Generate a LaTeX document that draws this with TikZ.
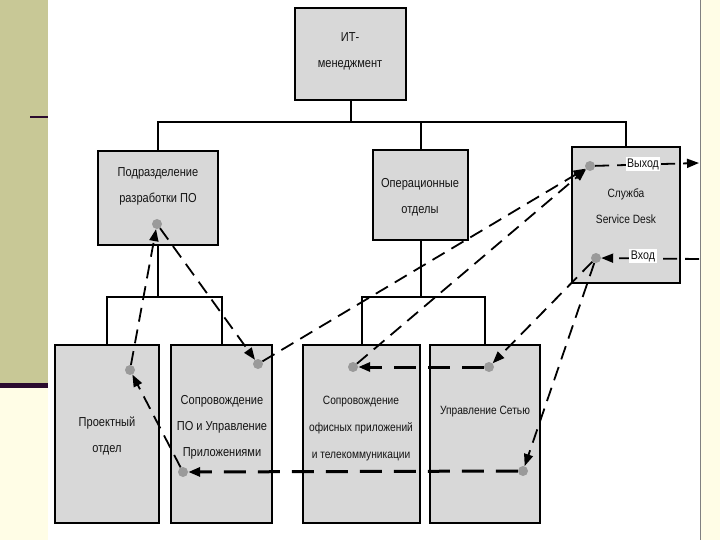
\documentclass[tikz,border=0pt]{standalone}
\usepackage{fontspec}
\setmainfont{Liberation Sans}[FakeStretch=0.85]
\usetikzlibrary{arrows.meta}
\definecolor{sideolive}{HTML}{C8C896}
\definecolor{sidepurple}{HTML}{2B0B2E}
\definecolor{sideyellow}{HTML}{FFFDE6}
\definecolor{boxgray}{HTML}{D8D8D8}
\definecolor{dotgray}{HTML}{9A9A9A}
\definecolor{textdark}{HTML}{141414}
\begin{document}
\begin{tikzpicture}[x=1pt,y=-1pt,
  box/.style={draw=black, line width=2.5pt, fill=boxgray, inner sep=0pt},
  txt/.style={align=center, text=textdark, font=\fontsize{13}{26}\selectfont, inner sep=0pt},
  dotnode/.style={circle, fill=dotgray, minimum size=10pt, inner sep=0pt},
  flow/.style={line width=1.8pt, dash pattern=on 14pt off 8pt, -{Triangle[length=12pt,width=9pt]}},
  hflow/.style={flow, line width=3pt, dash pattern=on 22pt off 12pt},
  tree/.style={line width=2pt},
  lbl/.style={fill=white, text=textdark, font=\fontsize{12.5}{13}\selectfont, inner sep=1.5pt}]
\useasboundingbox (0,0) rectangle (720,540);
% background panels
\fill[white] (0,0) rectangle (720,540);
\fill[sideolive] (0,0) rectangle (48,383);
\fill[sidepurple] (0,383) rectangle (48,388);
\fill[sideyellow] (0,388) rectangle (48,540);
\draw[line width=1.5pt, sidepurple] (30,117) -- (48,117);
\fill[sideyellow] (700,0) rectangle (720,540);
\draw[line width=0.8pt, gray] (700,0) -- (700,540);
% boxes
\node[box, minimum width=111pt, minimum height=92pt] (top) at (350.5,54) {};
\node[box, minimum width=120pt, minimum height=94pt] (pod) at (158,198) {};
\node[box, minimum width=95pt, minimum height=90pt] (oper) at (420.5,195) {};
\node[box, minimum width=108pt, minimum height=136pt] (sd) at (626,215) {};
\node[box, minimum width=104pt, minimum height=178pt] (proj) at (107,434) {};
\node[box, minimum width=101pt, minimum height=178pt] (sopo) at (221.5,434) {};
\node[box, minimum width=117pt, minimum height=178pt] (sofis) at (361.5,434) {};
\node[box, minimum width=110pt, minimum height=178pt] (upr) at (485,434) {};
% tree connectors
\coordinate (bar) at (0,122);
\draw[tree] (top.south) -- (top.south |- bar);
\draw[tree] (pod.north) -- (pod.north |- bar) -| (sd.north);
\draw[tree] (oper.north) -- (oper.north |- bar);
\coordinate (bar2) at (0,297);
\draw[tree] (pod.south) -- (pod.south |- bar2);
\draw[tree] (proj.north) |- (bar2 -| sopo.north) -- (sopo.north);
\draw[tree] (oper.south) -- (oper.south |- bar2);
\draw[tree] (sofis.north) |- (bar2 -| upr.north) -- (upr.north);
% texts
\node[txt] (t-top) at (350,51) {ИТ-\\менеджмент};
\node[txt] (t-pod) at (158,186) {Подразделение\\разработки ПО};
\node[txt] (t-oper) at (420,197) {Операционные\\отделы};
\node[txt, font=\fontsize{12}{26}\selectfont] (t-sd) at (626,206) {Служба\\Service Desk};
\node[txt] (t-proj) at (107,436) {Проектный\\отдел};
\node[txt] (t-sopo) at (222,427) {Сопровождение\\ПО и Управление\\Приложениями};
\node[txt, font=\fontsize{12}{27}\selectfont] (t-sofis) at (361,429) {Сопровождение\\офисных приложений\\и телекоммуникации};
\node[txt, font=\fontsize{12}{26}\selectfont] (t-upr) at (485,412) {Управление Сетью};
% dots
\node[dotnode] (d1) at (157,224) {};
\node[dotnode] (d2) at (130,370) {};
\node[dotnode] (d3) at (258,364) {};
\node[dotnode] (d4) at (183,472) {};
\node[dotnode] (d5) at (353,367) {};
\node[dotnode] (d6) at (489,367) {};
\node[dotnode] (d7) at (523,471) {};
\node[dotnode] (d8) at (590,166) {};
\node[dotnode] (d9) at (596,258) {};
\coordinate (out) at (699,163);
\coordinate (in) at (699,259);
% flows
\draw[flow] (d9) -- (d6);
\draw[flow] (d9) -- (d7);
\draw[hflow] (d6) -- (d5);
\draw[flow] (d5) -- (d8);
\draw[hflow] (d7) -- (d4);
\draw[flow] (d4) -- (d2);
\draw[flow] (d2) -- (d1);
\draw[flow] (d1) -- (d3);
\draw[flow] (d3) -- (d8);
\draw[flow] (d8) -- (out);
\draw[flow] (in) -- (d9);
\node[lbl] (lout) at (643,164) {Выход};
\node[lbl] (lin) at (643,256) {Вход};
\end{tikzpicture}
\end{document}
